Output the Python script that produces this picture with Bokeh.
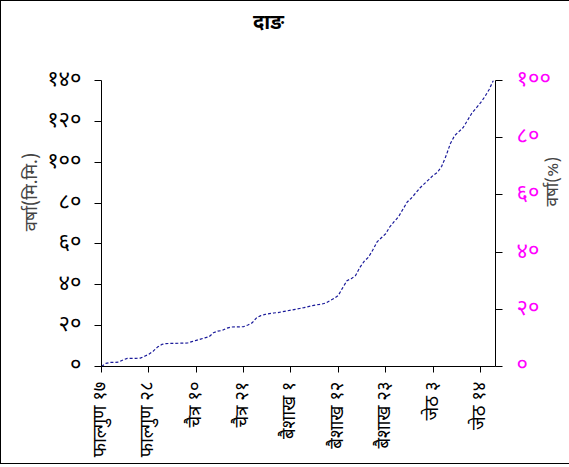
import math
from bokeh.plotting import figure
from bokeh.models import Range1d, LinearAxis, FixedTicker
from bokeh.embed import file_html
from bokeh.resources import INLINE

# cumulative rainfall (mm), one value per day starting फाल्गुण १७
rain_cum = [0, 1.5, 2.0, 2.0, 2.2, 3.2, 4.0, 4.0, 4.0, 4.1,
            5.0, 6.0, 7.5, 9.5, 10.8, 11.2, 11.3, 11.3, 11.4, 11.4,
            11.5, 12.2, 12.8, 13.4, 14.0, 14.6, 16.5, 17.3, 17.6, 18.7,
            19.3, 19.4, 19.4, 19.5, 20.3, 21.4, 23.8, 24.9, 25.5, 25.9,
            26.2, 26.4, 26.8, 27.2, 27.6, 28.0, 28.4, 28.8, 29.3, 29.8,
            30.2, 30.5, 31.0, 32.2, 33.3, 34.8, 38.5, 42.0, 43.0, 44.5,
            48.5, 51.5, 53.5, 57.0, 61.0, 63.0, 65.0, 68.5, 71.0, 73.4,
            77.0, 80.5, 82.5, 85.0, 87.5, 89.5, 91.5, 93.5, 95.0, 98.0,
            103.0, 109.0, 113.0, 115.0, 117.0, 120.5, 124.0, 126.5, 129.0, 132.0,
            135.5, 140.0]
days = list(range(len(rain_cum)))

x_tick_pos = [0, 11, 22, 33, 44, 55, 66, 77, 88]
x_tick_labels = ["फाल्गुण १७", "फाल्गुण २८", "चैत्र १०", "चैत्र २१", "बैशाख १",
                 "बैशाख १२", "बैशाख २३", "जेठ ३", "जेठ १४"]
y_ticks = [0, 20, 40, 60, 80, 100, 120, 140]
y_tick_labels = ["०", "२०", "४०", "६०", "८०", "१००", "१२०", "१४०"]
pct_ticks = [0, 20, 40, 60, 80, 100]
pct_tick_labels = ["०", "२०", "४०", "६०", "८०", "१००"]
title_text = "दाङ"
left_label = "वर्षा(मि.मि.)"
right_label = "वर्षा(%)"

total = rain_cum[-1]
FONT = "Noto Sans Devanagari, Lohit Devanagari, Noto Sans, sans-serif"
EN = "\u2002"  # en space, used only to shift a label along its axis

p = figure(frame_width=394, frame_height=286, output_backend="svg", toolbar_location=None,
           x_range=Range1d(0, 91.5), y_range=Range1d(0, 140),
           min_border_left=100, min_border_right=75, min_border_top=79, min_border_bottom=97,
           styles={"border": "1px solid black"})
p.outline_line_color = None
p.xgrid.visible = False
p.ygrid.visible = False
p.extra_y_ranges = {"pct": Range1d(0, 100 * 140 / total)}

p.line(days, rain_cum, line_color="#1a1a9a", line_width=1.2, line_dash="3 2")

xa = p.below[0]
ya = p.left[0]

xa.ticker = FixedTicker(ticks=x_tick_pos)
xa.major_label_overrides = {k: v for k, v in zip(x_tick_pos, x_tick_labels)}
xa.major_label_orientation = math.pi / 2
xa.major_label_text_font_size = "18.5px"
xa.major_label_text_font = FONT
xa.major_label_text_color = "black"
xa.minor_tick_line_color = None
xa.major_tick_out = 6
xa.major_tick_in = 0
xa.axis_line_color = "black"
xa.major_label_standoff = 9

ya.ticker = FixedTicker(ticks=y_ticks)
ya.major_label_overrides = {k: v for k, v in zip(y_ticks, y_tick_labels)}
ya.major_label_text_font_size = "22px"
ya.major_label_text_font = FONT
ya.major_label_text_color = "black"
ya.minor_tick_line_color = None
ya.major_tick_out = 7
ya.major_tick_in = 0
ya.major_label_standoff = 13
ya.axis_label = EN * 7 + left_label
ya.axis_label_text_font = FONT
ya.axis_label_text_font_size = "18px"
ya.axis_label_text_font_style = "normal"
ya.axis_label_standoff = 0

# title drawn as the label of an empty axis above the frame
ta = LinearAxis(ticker=FixedTicker(ticks=[]), axis_line_color=None,
                major_tick_line_color=None, minor_tick_line_color=None,
                major_tick_out=0, major_tick_in=0)
ta.axis_label = title_text + EN * 6
ta.axis_label_text_font = FONT
ta.axis_label_text_font_size = "20px"
ta.axis_label_text_font_style = "bold"
ta.axis_label_text_color = "black"
ta.axis_label_standoff = 44
p.add_layout(ta, "above")

ra = LinearAxis(y_range_name="pct")
ra.ticker = FixedTicker(ticks=pct_ticks)
ra.major_label_overrides = {k: v for k, v in zip(pct_ticks, pct_tick_labels)}
ra.major_label_text_font_size = "22px"
ra.major_label_text_font = FONT
ra.major_label_text_color = "#FF00FF"
ra.minor_tick_line_color = None
ra.major_tick_out = 7
ra.major_tick_in = 0
ra.major_label_standoff = 14
ra.axis_label = EN * 2 + right_label
ra.axis_label_text_font = FONT
ra.axis_label_text_font_size = "17px"
ra.axis_label_text_font_style = "normal"
ra.axis_label_orientation = math.pi / 2
ra.axis_label_standoff = 0
p.add_layout(ra, "right")

open("out.html", "w").write(file_html(p, INLINE))
